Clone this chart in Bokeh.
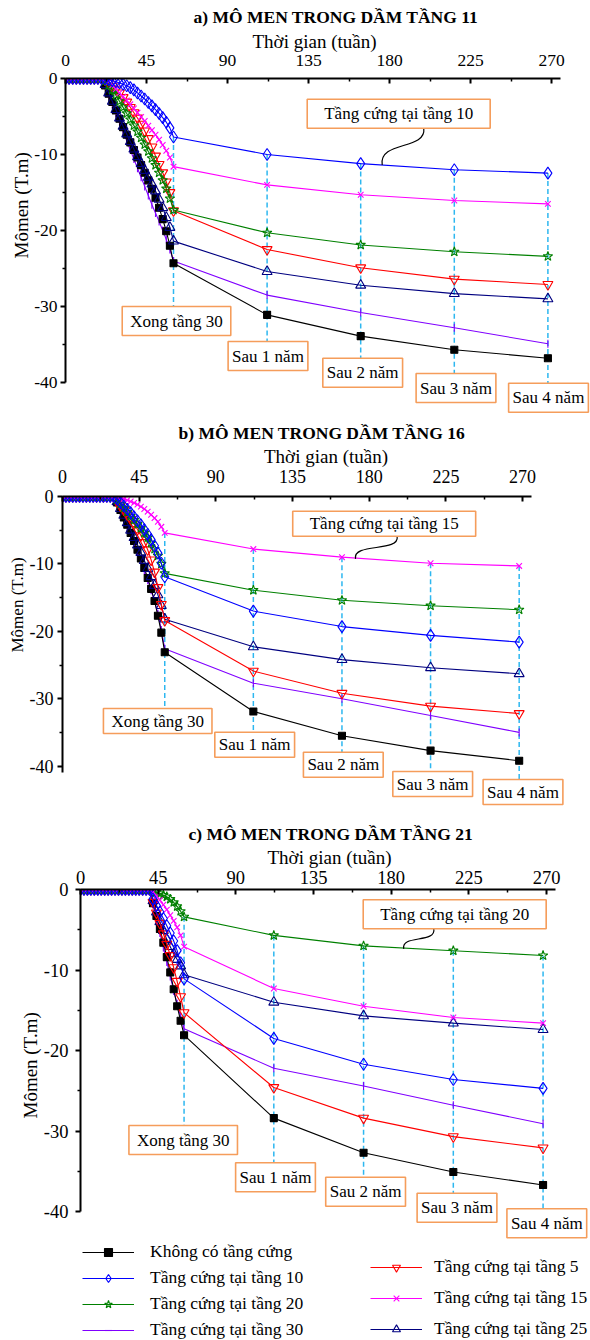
import math
from bokeh.plotting import figure
from bokeh.models import (Range1d, FixedTicker, Label, Legend, LegendItem,
                          ColumnDataSource, Title)
from bokeh.layouts import column
from bokeh.embed import file_html
from bokeh.resources import INLINE

# ---------------- data ----------------
weeks_build = [0, 2, 4, 6, 8, 10, 12, 14, 16, 18, 20, 22, 24, 26, 28, 30,
               32, 34, 36, 38, 40, 42, 44, 46, 48, 50, 52, 54, 56, 58, 60]
weeks_after = [112, 164, 216, 268]
x_ticks = [0, 45, 90, 135, 180, 225, 270]
x_minor = [22.5, 67.5, 112.5, 157.5, 202.5, 247.5]
y_ticks = [0, -10, -20, -30, -40]
y_tick_text = ["0", "-10", "-20", "-30", "-40"]
y_minor = [-5, -15, -25, -35]

series_keys = ["none", "t5", "t10", "t15", "t20", "t25", "t30"]
series_labels = {
    "none": "Không có tầng cứng",
    "t5": "Tầng cứng tại tầng 5",
    "t10": "Tầng cứng tại tầng 10",
    "t15": "Tầng cứng tại tầng 15",
    "t20": "Tầng cứng tại tầng 20",
    "t25": "Tầng cứng tại tầng 25",
    "t30": "Tầng cứng tại tầng 30",
}
stage_labels = ["Xong tầng 30", "Sau 1 năm", "Sau 2 năm", "Sau 3 năm", "Sau 4 năm"]

# Panel a: beam at floor 11 (flat zero up to week 20)
a_flat_until = 20
a_none_build = [-0.9, -2.0, -3.1, -4.2, -5.3, -6.4, -7.4, -8.4, -9.4, -10.4,
                -11.4, -12.4, -13.4, -14.5, -15.7, -17.0, -18.5, -20.1, -22.0, -24.3]
a_none_after = [-31.1, -33.9, -35.7, -36.8]
a_t5_build = [-0.2, -0.6, -1.0, -1.4, -1.9, -2.5, -3.1, -3.8, -4.5, -5.2,
              -6.0, -6.9, -7.9, -9.0, -10.2, -11.3, -12.4, -13.6, -15.0, -17.4]
a_t5_after = [-22.5, -24.9, -26.4, -27.1]
a_t10_build = [-0.05, -0.15, -0.28, -0.42, -0.58, -0.75, -0.95, -1.2, -1.5, -1.9,
               -2.3, -2.7, -3.15, -3.6, -4.1, -4.6, -5.15, -5.75, -6.5, -7.7]
a_t10_after = [-10.0, -11.2, -12.0, -12.45]
a_t15_build = [-0.05, -0.4, -0.9, -1.4, -1.9, -2.4, -2.9, -3.4, -3.95, -4.5,
               -5.05, -5.6, -6.2, -6.8, -7.4, -8.05, -8.75, -9.5, -10.4, -11.6]
a_t15_after = [-14.0, -15.3, -16.05, -16.5]
a_t20_build = [-0.3, -0.9, -1.5, -2.2, -3.0, -3.8, -4.6, -5.4, -6.2, -7.0,
               -7.8, -8.7, -9.6, -10.5, -11.4, -12.4, -13.4, -14.5, -15.8, -17.3]
a_t20_after = [-20.3, -21.9, -22.8, -23.4]
a_t25_build = [-0.8, -1.9, -3.0, -4.1, -5.2, -6.3, -7.3, -8.3, -9.3, -10.3,
               -11.2, -12.1, -13.0, -13.9, -14.8, -15.9, -17.0, -18.3, -19.6, -21.4]
a_t25_after = [-25.4, -27.2, -28.3, -29.0]
a_t30_build = [-1.0, -2.2, -3.4, -4.6, -5.8, -7.0, -8.2, -9.4, -10.6, -11.8,
               -13.0, -14.2, -15.4, -16.6, -17.7, -18.8, -20.0, -21.2, -22.5, -24.0]
a_t30_after = [-28.5, -30.8, -32.8, -34.9]

# Panel b: beam at floor 16 (flat zero up to week 30)
b_flat_until = 30
b_none_build = [-0.9, -2.0, -3.1, -4.2, -5.4, -6.6, -7.9, -9.2, -10.6, -12.1,
                -13.7, -15.5, -17.7, -20.2, -23.1]
b_none_after = [-31.9, -35.5, -37.7, -39.2]
b_t5_build = [-0.8, -1.4, -2.0, -2.7, -3.4, -4.1, -4.9, -5.8, -6.8, -7.9,
              -9.4, -11.2, -13.5, -16.0, -18.4]
b_t5_after = [-25.9, -29.2, -31.1, -32.2]
b_t10_build = [-0.4, -0.9, -1.4, -1.9, -2.4, -3.0, -3.6, -4.2, -4.9, -5.6,
               -6.4, -7.3, -8.4, -9.9, -11.9]
b_t10_after = [-17.0, -19.3, -20.6, -21.6]
b_t15_build = [-0.05, -0.2, -0.35, -0.55, -0.75, -0.95, -1.2, -1.5, -1.85, -2.25,
               -2.7, -3.2, -3.75, -4.5, -5.4]
b_t15_after = [-7.8, -9.0, -9.9, -10.3]
b_t20_build = [-0.5, -1.1, -1.7, -2.3, -2.9, -3.5, -4.1, -4.7, -5.4, -6.1,
               -6.9, -7.8, -8.8, -10.0, -11.4]
b_t20_after = [-13.9, -15.4, -16.2, -16.8]
b_t25_build = [-0.8, -1.8, -2.8, -3.9, -5.0, -6.1, -7.2, -8.3, -9.5, -10.7,
               -11.9, -13.2, -14.6, -16.2, -18.2]
b_t25_after = [-22.3, -24.2, -25.4, -26.3]
b_t30_build = [-1.0, -2.2, -3.4, -4.6, -5.8, -7.0, -8.3, -9.6, -11.0, -12.4,
               -13.9, -15.5, -17.4, -19.8, -22.6]
b_t30_after = [-27.7, -30.0, -32.5, -35.0]

# Panel c: beam at floor 21 (flat zero up to week 40)
c_flat_until = 40
c_none_build = [-1.7, -3.3, -4.9, -6.6, -8.4, -10.3, -12.4, -14.5, -16.3, -18.1]
c_none_after = [-28.4, -32.7, -35.1, -36.7]
c_t5_build = [-1.6, -2.9, -4.2, -5.5, -6.8, -8.2, -9.7, -11.4, -13.3, -15.3]
c_t5_after = [-24.6, -28.4, -30.7, -32.1]
c_t10_build = [-1.2, -2.0, -2.8, -3.6, -4.5, -5.4, -6.4, -7.6, -9.1, -11.1]
c_t10_after = [-18.5, -21.7, -23.6, -24.7]
c_t15_build = [-0.3, -0.8, -1.3, -1.9, -2.5, -3.2, -3.9, -4.7, -5.7, -7.1]
c_t15_after = [-12.3, -14.5, -15.9, -16.6]
c_t20_build = [-0.1, -0.3, -0.5, -0.7, -0.9, -1.2, -1.6, -2.1, -2.7, -3.4]
c_t20_after = [-5.7, -7.0, -7.6, -8.2]
c_t25_build = [-1.4, -2.8, -4.0, -5.1, -6.2, -7.1, -8.0, -8.7, -9.5, -10.6]
c_t25_after = [-14.0, -15.7, -16.6, -17.4]
c_t30_build = [-1.8, -3.6, -5.4, -7.2, -9.0, -10.8, -12.6, -14.2, -15.8, -17.3]
c_t30_after = [-22.2, -24.4, -26.8, -29.1]

# ---------------- styles ----------------
FONT = "Liberation Serif"
STYLE = {
    "none": dict(color="black", marker="square", size=7, fill=True, angle=0.0),
    "t5": dict(color="#FF0000", marker="inverted_triangle", size=10, fill=False, angle=0.0),
    "t10": dict(color="#0000FF", marker="diamond", size=12, fill=False, angle=0.0),
    "t15": dict(color="#FF00FF", marker="x", size=8, fill=False, angle=0.0),
    "t20": dict(color="#008000", marker="star", size=10, fill=False, angle=0.0),
    "t25": dict(color="#000080", marker="triangle", size=10, fill=False, angle=0.0),
    "t30": dict(color="#8000FF", marker="dash", size=8, fill=False, angle=math.pi / 2),
}
DRAW_ORDER = ["t30", "none", "t25", "t5", "t20", "t15", "t10"]
DASH_COLOR = "#2DB7F0"
BOX_COLOR = "#F59D5B"


def full_series(flat_until, build, after):
    n0 = weeks_build.index(flat_until) + 1
    return [0.0] * n0 + list(build) + list(after)


def make_panel(g, data, flat_until):
    top_abs = g["off"] + g["T"]
    bottom_abs = g["off"] + g["H"]
    xe = (590 - g["L"]) / g["pxw"]
    ys = -(g["H"] - g["T"]) / g["pxu"]

    def dx(cx):
        return (cx - g["L"]) / g["pxw"]

    def dy(cy):
        return -(cy - top_abs) / g["pxu"]

    p = figure(width=590, height=g["H"], x_range=Range1d(0, xe), y_range=Range1d(ys, 0),
               output_backend="svg", toolbar_location=None, tools="",
               x_axis_location="above", y_axis_location="left",
               min_border_left=g["L"], min_border_top=g["T"],
               min_border_right=0, min_border_bottom=0)
    if "frame_align" in p.properties():
        p.frame_align = False
    p.grid.visible = False
    p.outline_line_color = None
    p.background_fill_color = "white"
    p.border_fill_color = "white"

    xa = p.xaxis[0]
    xa.ticker = FixedTicker(ticks=x_ticks, minor_ticks=x_minor)
    xa.bounds = (0, 275)
    xa.major_tick_in = 5
    xa.major_tick_out = 0
    xa.minor_tick_in = 3
    xa.minor_tick_out = 0
    xa.axis_line_width = 2
    xa.major_tick_line_width = 2
    xa.minor_tick_line_width = 1.5
    xa.major_label_text_font = FONT
    xa.major_label_text_font_size = g["tick_fs"]
    xa.major_label_text_color = "black"
    xa.major_label_standoff = g["xstand"]

    ya = p.yaxis[0]
    ya.ticker = FixedTicker(ticks=y_ticks, minor_ticks=y_minor)
    ya.major_label_overrides = {t: s for t, s in zip(y_ticks, y_tick_text)}
    ya.bounds = (g["ybound"], 0)
    ya.major_tick_in = 0
    ya.major_tick_out = 5
    ya.minor_tick_in = 0
    ya.minor_tick_out = 3
    ya.axis_line_width = 2
    ya.major_tick_line_width = 2
    ya.minor_tick_line_width = 1.5
    ya.major_label_text_font = FONT
    ya.major_label_text_font_size = g["tick_fs"]
    ya.major_label_text_color = "black"
    ya.major_label_standoff = g["ystand"]

    # axis titles and panel title as Title objects (stacked outward)
    p.add_layout(Title(text="Thời gian (tuần)", align="left",
                       offset=g["xlabel_left"] - g["L"], standoff=g["xl_stand"],
                       text_font=FONT, text_font_size="19px", text_font_style="normal",
                       text_color="black"), "above")
    p.add_layout(Title(text=g["title"], align="left", offset=g["title_x"] - g["L"],
                       standoff=g["title_stand"], text_font=FONT,
                       text_font_size="17.5px", text_font_style="bold",
                       text_color="black"), "above")
    p.add_layout(Title(text="Mômen (T.m)", align="left",
                       offset=bottom_abs - g["ylabel_bottom"], standoff=g["yl_stand"],
                       text_font=FONT, text_font_size=g["ylab_fs"], text_font_style="normal",
                       text_color="black"), "left")

    xs = weeks_build + weeks_after
    ser = {k: full_series(flat_until, data[k][0], data[k][1]) for k in series_keys}

    # dashed guide lines at end of construction and each year after
    idx = [len(weeks_build) - 1 + i for i in range(5)]
    gx = [xs[i] for i in idx]
    gtop = [max(ser[k][i] for k in series_keys) for i in idx]
    gbot = [dy(v) for v in g["guide_bottom"]]
    p.segment(x0=gx, y0=gtop, x1=gx, y1=gbot, line_color=DASH_COLOR,
              line_width=1.5, line_dash="5 3")

    rends = {}
    for k in DRAW_ORDER:
        st = STYLE[k]
        src = ColumnDataSource(dict(x=xs, y=ser[k]))
        lr = p.line("x", "y", source=src, line_color=st["color"], line_width=1.1)
        sr = p.scatter("x", "y", source=src, marker=st["marker"], size=st["size"],
                       line_color=st["color"], line_width=1.1,
                       fill_color=st["color"] if st["fill"] else "white",
                       fill_alpha=1.0 if st["fill"] else 0.0, angle=st["angle"])
        rends[k] = (lr, sr)

    # connector to the highlighted curve
    (c0, c1, c2, c3) = g["conn"]
    p.bezier(x0=[dx(c0[0])], y0=[dy(c0[1])], x1=[dx(c3[0])], y1=[dy(c3[1])],
             cx0=[dx(c1[0])], cy0=[dy(c1[1])], cx1=[dx(c2[0])], cy1=[dy(c2[1])],
             line_color="black", line_width=1.2)

    # boxed labels
    for (txt, cx, cy, ph, pv) in g["boxes"]:
        p.add_layout(Label(x=dx(cx), y=dy(cy), text=txt, text_align="center",
                           text_baseline="middle", text_font=FONT,
                           text_font_size="17px", text_color="black",
                           border_line_color=BOX_COLOR, border_line_width=1.6,
                           background_fill_color="white",
                           padding=dict(left=ph, right=ph, top=pv, bottom=pv)))
    return p, rends


def pack(prefix):
    gl = globals()
    return {k: (gl[f"{prefix}_{k}_build"], gl[f"{prefix}_{k}_after"]) for k in series_keys}


geo_a = dict(off=0, H=415, L=65, T=78, pxw=1.8, pxu=7.6, tick_fs="17.5px",
             xstand=13, ystand=3, ybound=-40, ylab_fs="19px", xl_stand=0, yl_stand=0,
             title_stand=4,
             guide_bottom=[306, 341, 357.7, 373.3, 382.7],
             boxes=[(stage_labels[0], 176, 320.5, 8, 5), (stage_labels[1], 267.5, 355.5, 4, 5),
                    (stage_labels[2], 362.2, 372.2, 4, 5), (stage_labels[3], 455.5, 387.5, 4, 5),
                    (stage_labels[4], 548, 397.3, 4, 5),
                    ("Tầng cứng tại tầng 10", 398.2, 113.3, 17, 5)],
             conn=[(423.3, 127.7), (426, 150), (378, 140), (381.7, 164.5)],
             title="a)  MÔ MEN TRONG DẦM TẦNG 11", title_x=193,
             xlabel_left=252, ylabel_bottom=258)
geo_b = dict(off=415, H=395, L=62, T=81, pxw=1.704, pxu=6.74, tick_fs="18px",
             xstand=14, ystand=4, ybound=-41, ylab_fs="17px", xl_stand=0, yl_stand=0,
             title_stand=2,
             guide_bottom=[707.7, 731.7, 751.7, 771, 779],
             boxes=[(stage_labels[0], 157.2, 720.5, 8, 3), (stage_labels[1], 254.2, 744.2, 4, 3),
                    (stage_labels[2], 342.8, 764.2, 4, 3), (stage_labels[3], 432.2, 783.5, 4, 3),
                    (stage_labels[4], 522.5, 791.5, 4, 3),
                    ("Tầng cứng tại tầng 15", 383.7, 523.3, 17, 3)],
             conn=[(396.7, 536), (399, 552), (352, 542), (355, 558.3)],
             title="b)  MÔ MEN TRONG DẦM TẦNG 16", title_x=178,
             xlabel_left=263.5, ylabel_bottom=652)
geo_c = dict(off=810, H=530, L=80, T=79, pxw=1.726, pxu=8.05, tick_fs="18.5px",
             xstand=6, ystand=7, ybound=-40, ylab_fs="19px", xl_stand=0, yl_stand=0,
             title_stand=2,
             guide_bottom=[1125, 1161.7, 1176.7, 1192.7, 1208.3],
             boxes=[(stage_labels[0], 182.7, 1139.5, 8, 5), (stage_labels[1], 275, 1176.7, 4, 5),
                    (stage_labels[2], 365.1, 1191.2, 4, 5), (stage_labels[3], 456.5, 1207.2, 4, 5),
                    (stage_labels[4], 546.3, 1222.8, 4, 5),
                    ("Tầng cứng tại tầng 20", 454.2, 913.8, 17, 5)],
             conn=[(433.3, 928.3), (436, 943), (400, 934), (403.3, 948.3)],
             title="c)  MÔ MEN TRONG DẦM TẦNG 21", title_x=188,
             xlabel_left=267, ylabel_bottom=1118)

pa, _ = make_panel(geo_a, pack("a"), a_flat_until)
pb, _ = make_panel(geo_b, pack("b"), b_flat_until)
pc, rc = make_panel(geo_c, pack("c"), c_flat_until)

legend_common = dict(orientation="vertical", glyph_width=52, glyph_height=20,
                     label_height=20, padding=0, margin=0, border_line_color=None,
                     background_fill_alpha=0, label_text_font=FONT,
                     label_text_font_size="17.5px", label_text_color="black")
left_items = [LegendItem(label=series_labels[k], renderers=list(rc[k]))
              for k in ["none", "t10", "t20", "t30"]]
right_items = [LegendItem(label=series_labels[k], renderers=list(rc[k]))
               for k in ["t5", "t15", "t25"]]
pc.add_layout(Legend(items=left_items, location=(2, 0), spacing=5,
                     label_standoff=16, **legend_common))
pc.add_layout(Legend(items=right_items, location=(290, 1), spacing=10,
                     label_standoff=12, **legend_common))

layout = column(pa, pb, pc, spacing=0)
open("out.html", "w").write(file_html(layout, INLINE, title="Mô men trong dầm"))
